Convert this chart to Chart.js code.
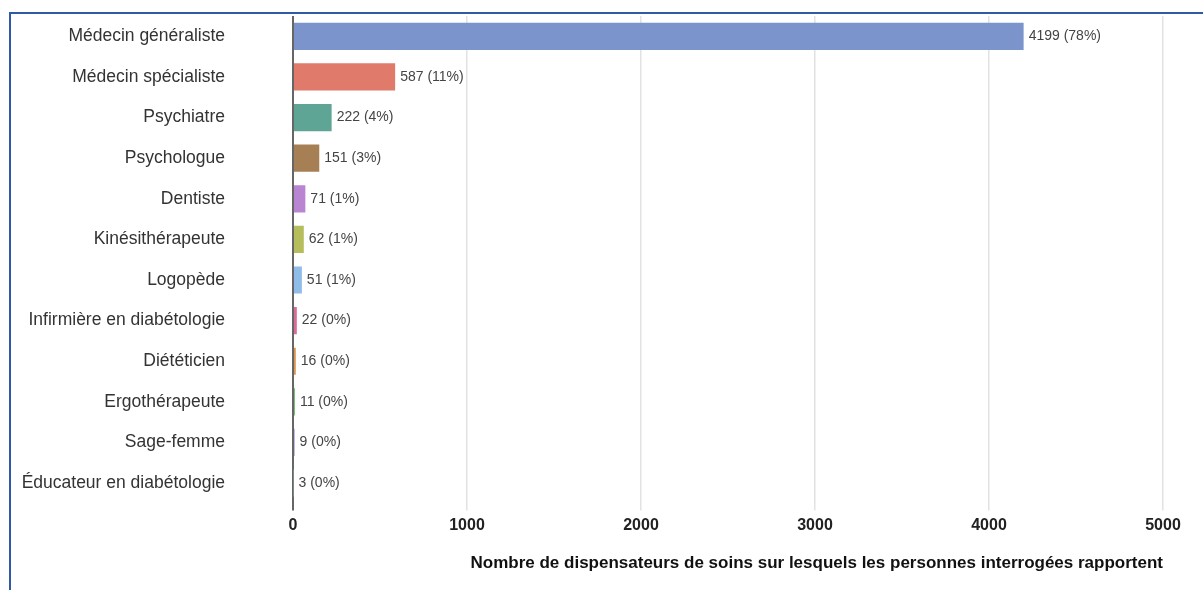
<!DOCTYPE html>
<html>
<head>
<meta charset="utf-8">
<script src="https://cdn.jsdelivr.net/npm/chart.js@4"></script>
<style>
  html, body { margin: 0; padding: 0; background: #fff; }
  #wrap { position: relative; width: 1203px; height: 590px; }
  #frame { position: absolute; left: 9px; top: 12px; right: 0; bottom: 0;
           border-left: 2px solid #2f5aa8; border-top: 2px solid #2f5aa8; pointer-events: none; }
</style>
</head>
<body>
<div id="wrap">
  <canvas id="chart" width="1203" height="590"></canvas>
  <div id="frame"></div>
</div>
<script>
const categories = [
  'Médecin généraliste', 'Médecin spécialiste', 'Psychiatre', 'Psychologue',
  'Dentiste', 'Kinésithérapeute', 'Logopède', 'Infirmière en diabétologie',
  'Diététicien', 'Ergothérapeute', 'Sage-femme', 'Éducateur en diabétologie'
];
const counts = [4199, 587, 222, 151, 71, 62, 51, 22, 16, 11, 9, 3];
const percents = [78, 11, 4, 3, 1, 1, 1, 0, 0, 0, 0, 0];
const barColors = [
  '#7b95cc', '#e07a6a', '#5fa596', '#a67f55', '#b985d2', '#b6bd5b',
  '#8fbde9', '#d86c98', '#dc9550', '#6cba6a', '#8e8ad8', '#8fb3aa'
];
const xTicks = [0, 1000, 2000, 3000, 4000, 5000];
const axisTitle = 'Nombre de dispensateurs de soins sur lesquels les personnes interrogées rapportent';

// labels "4199 (78%)" next to each bar
const valueLabels = {
  id: 'valueLabels',
  afterDatasetsDraw(chart) {
    const ctx = chart.ctx;
    const meta = chart.getDatasetMeta(0);
    ctx.save();
    ctx.font = '14px "Liberation Sans", Arial, sans-serif';
    ctx.fillStyle = '#444';
    ctx.textAlign = 'left';
    ctx.textBaseline = 'middle';
    meta.data.forEach((bar, i) => {
      ctx.fillText(counts[i] + ' (' + percents[i] + '%)', bar.x + 5, bar.y);
    });
    ctx.restore();
  }
};

new Chart(document.getElementById('chart').getContext('2d'), {
  type: 'bar',
  data: {
    labels: categories,
    datasets: [{
      data: counts,
      backgroundColor: barColors,
      borderWidth: 0,
      barPercentage: 0.67,
      categoryPercentage: 1
    }]
  },
  options: {
    indexAxis: 'y',
    responsive: false,
    animation: false,
    layout: { padding: { top: 16, right: 40, bottom: 16, left: 0 } },
    plugins: { legend: { display: false }, tooltip: { enabled: false } },
    scales: {
      x: {
        min: 0,
        max: 5000,
        afterBuildTicks: (scale) => { scale.ticks = xTicks.map(v => ({ value: v })); },
        ticks: {
          color: '#222',
          padding: 6,
          callback: (v) => String(v),
          font: { family: '"Liberation Sans", Arial, sans-serif', size: 16, weight: 'bold' }
        },
        grid: {
          color: (c) => c.tick && c.tick.value === 0 ? '#666' : '#e2e2e2',
          lineWidth: (c) => c.tick && c.tick.value === 0 ? 2 : 1.5,
          tickLength: 7
        },
        border: { display: false },
        title: {
          display: true,
          text: axisTitle,
          align: 'end',
          color: '#111',
          padding: { top: 12, bottom: 0 },
          font: { family: '"Liberation Sans", Arial, sans-serif', size: 17, weight: 'bold' }
        }
      },
      y: {
        afterFit: (scale) => {
          scale.width = 293;
          scale.paddingTop = 0;
          scale.paddingBottom = 0;
        },
        ticks: {
          color: '#333',
          padding: 68,
          font: { family: '"Liberation Sans", Arial, sans-serif', size: 17.5 }
        },
        grid: { display: false, drawTicks: false },
        border: { display: false }
      }
    }
  },
  plugins: [valueLabels]
});
</script>
</body>
</html>
